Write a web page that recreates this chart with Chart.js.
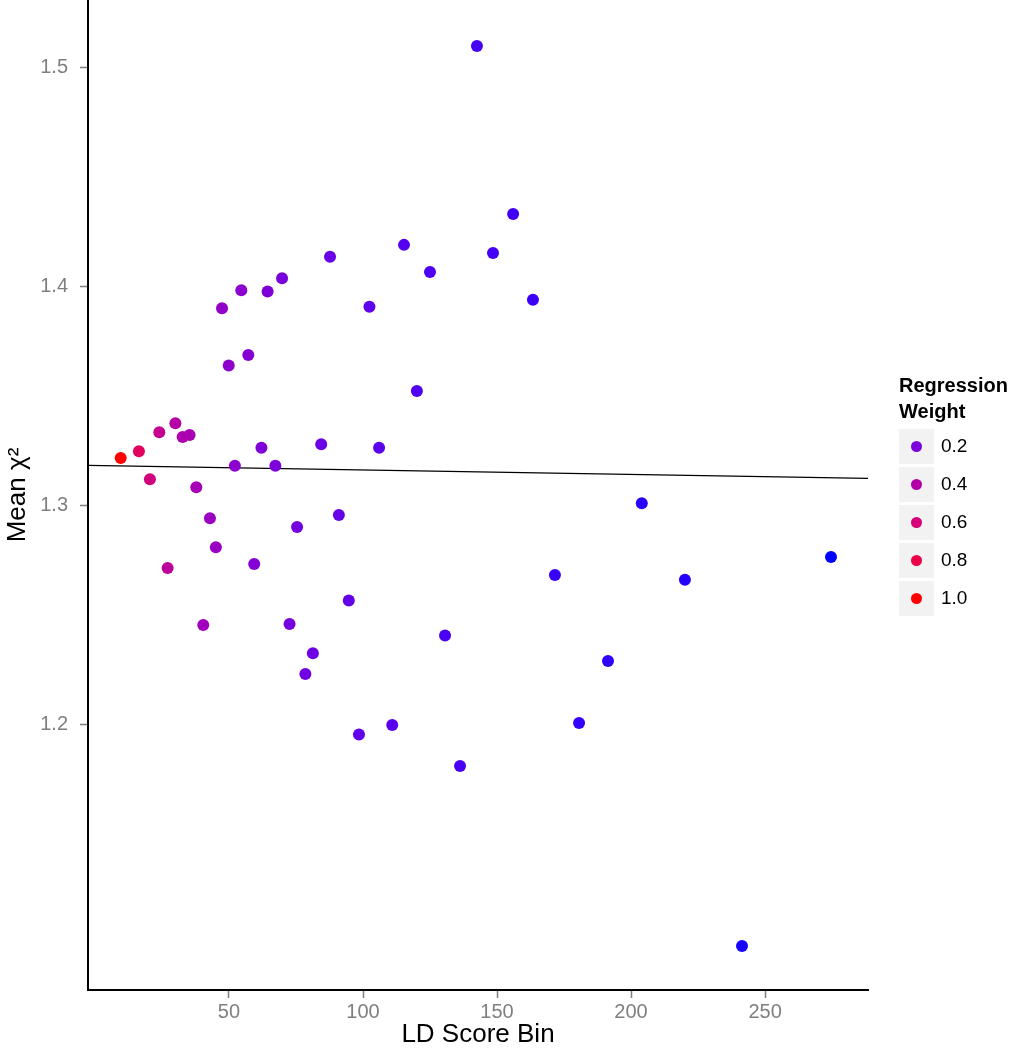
<!DOCTYPE html>
<html>
<head>
<meta charset="utf-8">
<script src="https://cdn.jsdelivr.net/npm/chart.js@4.4.1/dist/chart.umd.min.js"></script>
<style>
  html, body { margin: 0; padding: 0; background: #fff; }
  #wrap { position: relative; width: 1016px; height: 1050px; }
  #legend { position: absolute; left: 899px; top: 372px; font-family: "Liberation Sans", Arial, Helvetica, sans-serif; color: #000; }
  #legend .title { font-weight: bold; font-size: 20px; line-height: 26px; }
  #legend .row { position: relative; height: 38px; }
  #legend .key { position: absolute; left: 0; top: 0; width: 35px; height: 35px; background: #f2f2f2; }
  #legend .dot { position: absolute; left: 12px; top: 12px; width: 11px; height: 11px; border-radius: 50%; }
  #legend .lab { position: absolute; left: 42px; top: 5px; font-size: 19px; line-height: 24px; white-space: nowrap; }
</style>
</head>
<body>
<div id="wrap">
  <canvas id="c" width="1016" height="1050"></canvas>
  <div id="legend"></div>
</div>
<script>
// ---- data ----
const ldScoreBin = [9.6, 16.4, 20.5, 24.0, 27.1, 30.0, 32.7, 35.3, 37.8, 40.4,
  42.9, 45.1, 47.4, 49.9, 52.2, 54.6, 57.2, 59.4, 62.1, 64.4,
  67.3, 69.8, 72.6, 75.4, 78.5, 81.3, 84.4, 87.7, 91.0, 94.7,
  98.5, 102.4, 106.0, 110.9, 115.3, 120.1, 125.0, 130.6, 136.2, 142.5,
  148.5, 156.0, 163.4, 171.6, 180.6, 191.4, 204.0, 220.1, 241.4, 274.6];
const meanChi2 = [1.3219, 1.3250, 1.3122, 1.3337, 1.2717, 1.3378, 1.3315, 1.3324, 1.3085, 1.2457,
  1.2944, 1.2811, 1.3903, 1.3641, 1.3184, 1.3985, 1.3689, 1.2735, 1.3266, 1.3979,
  1.3184, 1.4040, 1.2461, 1.2904, 1.2233, 1.2327, 1.3282, 1.4138, 1.2959, 1.2568,
  1.1956, 1.3910, 1.3266, 1.2000, 1.4192, 1.3525, 1.4068, 1.2408, 1.1813, 1.5100,
  1.4155, 1.4333, 1.3941, 1.2685, 1.2009, 1.2292, 1.3012, 1.2663, 1.0991, 1.2767];
const regressionWeight = [1.0, 0.70, 0.58, 0.50, 0.45, 0.41, 0.38, 0.36, 0.34, 0.32,
  0.30, 0.29, 0.27, 0.26, 0.25, 0.24, 0.23, 0.22, 0.21, 0.205,
  0.20, 0.19, 0.185, 0.18, 0.17, 0.165, 0.16, 0.155, 0.15, 0.145,
  0.14, 0.135, 0.13, 0.125, 0.12, 0.115, 0.11, 0.107, 0.104, 0.10,
  0.097, 0.094, 0.09, 0.087, 0.083, 0.08, 0.076, 0.072, 0.066, 0.06];
const fitLineX = [-2.6, 288.4];
const fitLineY = [1.3185, 1.3126];
const xTicks = [50, 100, 150, 200, 250];
const yTicks = [1.2, 1.3, 1.4, 1.5];
const legendBreaks = [0.2, 0.4, 0.6, 0.8, 1.0];
const legendLabels = ["0.2", "0.4", "0.6", "0.8", "1.0"];

// ---- colour gradient blue -> red interpolated in Lab (as ggplot2) ----
function srgbToLab(r, g, b) {
  const lin = c => { c /= 255; return c <= 0.04045 ? c / 12.92 : Math.pow((c + 0.055) / 1.055, 2.4); };
  const R = lin(r), G = lin(g), B = lin(b);
  let X = (0.4124 * R + 0.3576 * G + 0.1805 * B) / 0.95047;
  let Y = (0.2126 * R + 0.7152 * G + 0.0722 * B);
  let Z = (0.0193 * R + 0.1192 * G + 0.9505 * B) / 1.08883;
  const f = t => t > 0.008856 ? Math.cbrt(t) : 7.787 * t + 16 / 116;
  const fx = f(X), fy = f(Y), fz = f(Z);
  return [116 * fy - 16, 500 * (fx - fy), 200 * (fy - fz)];
}
function labToSrgb(L, a, b) {
  const fy = (L + 16) / 116, fx = fy + a / 500, fz = fy - b / 200;
  const fi = t => t > 0.206893 ? t * t * t : (t - 16 / 116) / 7.787;
  const X = 0.95047 * fi(fx), Y = fi(fy), Z = 1.08883 * fi(fz);
  let R = 3.2406 * X - 1.5372 * Y - 0.4986 * Z;
  let G = -0.9689 * X + 1.8758 * Y + 0.0415 * Z;
  let B = 0.0557 * X - 0.2040 * Y + 1.0570 * Z;
  const g = c => { c = Math.min(1, Math.max(0, c)); return Math.round(255 * (c <= 0.0031308 ? 12.92 * c : 1.055 * Math.pow(c, 1 / 2.4) - 0.055)); };
  return `rgb(${g(R)},${g(G)},${g(B)})`;
}
const labLow = srgbToLab(0, 0, 255), labHigh = srgbToLab(255, 0, 0);
const wMin = Math.min(...regressionWeight), wMax = Math.max(...regressionWeight);
function weightColor(w) {
  const t = Math.min(1, Math.max(0, (w - wMin) / (wMax - wMin)));
  return labToSrgb(labLow[0] + t * (labHigh[0] - labLow[0]),
                   labLow[1] + t * (labHigh[1] - labLow[1]),
                   labLow[2] + t * (labHigh[2] - labLow[2]));
}

const points = ldScoreBin.map((x, i) => ({ x: x, y: meanChi2[i] }));
const pointColors = regressionWeight.map(weightColor);
const linePts = fitLineX.map((x, i) => ({ x: x, y: fitLineY[i] }));

const FONT = "'Liberation Sans', Arial, Helvetica, sans-serif";

new Chart(document.getElementById('c'), {
  type: 'scatter',
  data: {
    datasets: [
      { data: points, pointBackgroundColor: pointColors, pointBorderWidth: 0, pointRadius: 6, pointHoverRadius: 6 },
      { type: 'line', data: linePts, borderColor: '#000', borderWidth: 1.2, pointRadius: 0, fill: false, tension: 0 }
    ]
  },
  options: {
    responsive: false,
    animation: false,
    events: [],
    layout: { padding: { left: 0, right: 148, top: 0, bottom: 0 }, autoPadding: false },
    plugins: { legend: { display: false }, tooltip: { enabled: false } },
    scales: {
      x: {
        type: 'linear', min: -2.6, max: 288.4,
        afterBuildTicks: s => { s.ticks = xTicks.map(v => ({ value: v })); },
        afterFit: s => { s.height = 60; s.paddingLeft = 0; s.paddingRight = 0; },
        ticks: { color: '#7f7f7f', font: { family: FONT, size: 20 }, padding: 2, maxRotation: 0, autoSkip: false,
                 callback: v => String(v) },
        grid: { drawOnChartArea: false, drawTicks: true, tickLength: 8, tickColor: '#7f7f7f', tickWidth: 1.5 },
        border: { display: true, color: '#000', width: 2 },
        title: { display: true, text: 'LD Score Bin', color: '#000', font: { family: FONT, size: 26 }, padding: { top: 0, bottom: 0 } }
      },
      y: {
        type: 'linear', min: 1.079, max: 1.531,
        afterBuildTicks: s => { s.ticks = yTicks.map(v => ({ value: v })); },
        afterFit: s => { s.width = 88; s.paddingTop = 0; s.paddingBottom = 0; },
        ticks: { color: '#7f7f7f', font: { family: FONT, size: 20 }, padding: 12, autoSkip: false,
                 callback: v => v.toFixed(1) },
        grid: { drawOnChartArea: false, drawTicks: true, tickLength: 8, tickColor: '#7f7f7f', tickWidth: 1.5 },
        border: { display: true, color: '#000', width: 2 },
        title: { display: true, text: 'Mean χ²', color: '#000', font: { family: FONT, size: 26 }, padding: { top: 2, bottom: 0 } }
      }
    }
  }
});

// ---- legend (HTML text) ----
const lg = document.getElementById('legend');
let html = '<div class="title">Regression<br>Weight</div><div style="height:5px"></div>';
legendBreaks.forEach((b, i) => {
  html += `<div class="row"><div class="key"><div class="dot" style="background:${weightColor(b)}"></div></div><div class="lab">${legendLabels[i]}</div></div>`;
});
lg.innerHTML = html;
</script>
</body>
</html>
